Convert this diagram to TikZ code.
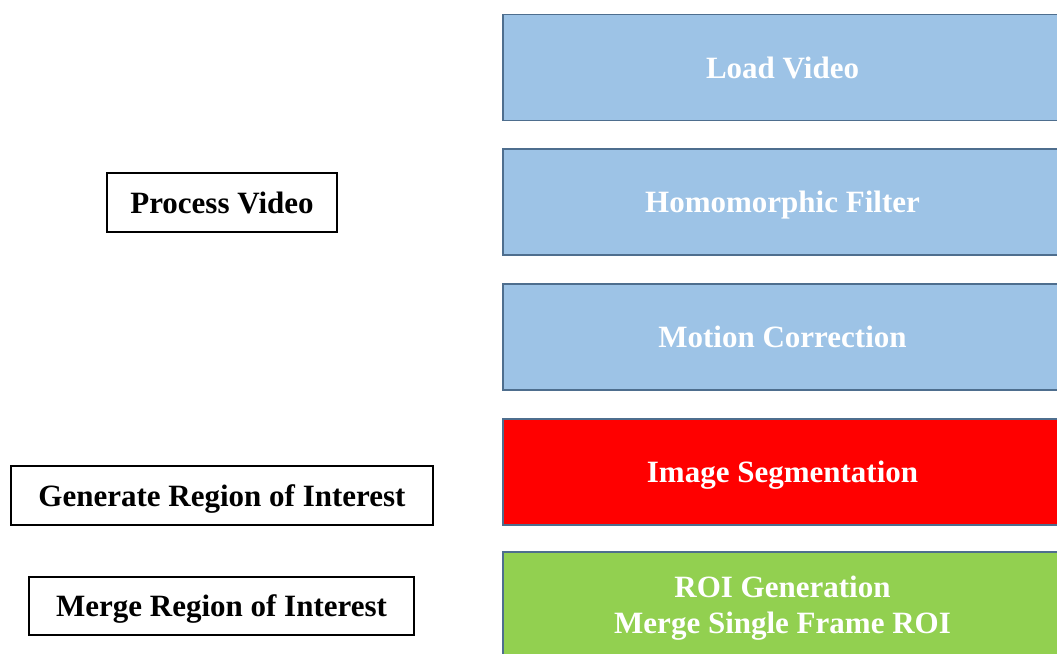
\documentclass[tikz,border=0pt]{standalone}
\usepackage{fontspec}
\setmainfont{Liberation Serif}
\definecolor{stepblue}{HTML}{9DC3E6}
\definecolor{stepred}{HTML}{FF0000}
\definecolor{stepgreen}{HTML}{92D050}
\definecolor{stepedge}{HTML}{4E6E8E}
\begin{document}
\begin{tikzpicture}[x=1pt,y=-1pt,
  stepbox/.style={draw=stepedge, line width=1.8pt, minimum width=559pt, minimum height=106pt,
    inner sep=0pt, text=white, font=\fontsize{31}{36}\selectfont\bfseries, align=center,
    text height=21pt, text depth=0pt},
  labelbox/.style={draw=black, line width=1.6pt, inner sep=0pt,
    font=\fontsize{31}{36}\selectfont\bfseries, align=center,
    text height=21pt, text depth=0pt}]
\useasboundingbox (0,0) rectangle (1057,653);
\clip (0,0) rectangle (1057,653);
\fill[white] (0,0) rectangle (1057,653);
\node[stepbox, fill=stepblue] (load) at (782.5,67.5) {Load Video};
\node[stepbox, fill=stepblue] (homo) at (782.5,202) {Homomorphic Filter};
\node[stepbox, fill=stepblue] (motion) at (782.5,337) {Motion Correction};
\node[stepbox, fill=stepred] (seg) at (782.5,472) {Image Segmentation};
\node[stepbox, fill=stepgreen, text height=57pt] (roi) at (782.5,605) {ROI Generation\\Merge Single Frame ROI};
\node[labelbox, minimum width=230pt, minimum height=59pt] (proc) at (222,202.5) {Process Video};
\node[labelbox, minimum width=422pt, minimum height=59pt] (gen) at (222,495.5) {Generate Region of Interest};
\node[labelbox, minimum width=385pt, minimum height=58pt] (merge) at (221.5,606) {Merge Region of Interest};
\end{tikzpicture}
\end{document}
